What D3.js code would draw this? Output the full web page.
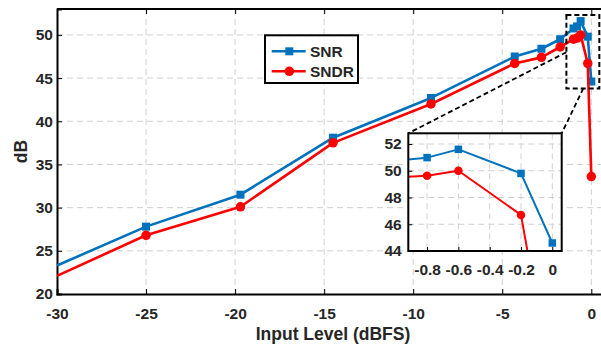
<!DOCTYPE html>
<html>
<head>
<meta charset="utf-8">
<script src="https://cdn.jsdelivr.net/npm/d3@7"></script>
<style>
  html, body { margin: 0; padding: 0; background: #fff; }
  svg { display: block; }
  text { font-family: "Liberation Sans", Arial, sans-serif; font-weight: bold; fill: #262626; }
</style>
</head>
<body>
<svg id="chart" width="601" height="345"></svg>
<script>
// ---- data ----
const inputLevel = [-30, -25, -19.7, -14.5, -9, -4.3, -2.8, -1.75, -1.0, -0.8, -0.6, -0.2, 0];
const snr  = [23.3, 27.8, 31.5, 38.1, 42.7, 47.5, 48.4, 49.5, 50.75, 50.98, 51.6, 49.8, 44.6];
const sndr = [22.1, 26.8, 30.1, 37.5, 42.0, 46.7, 47.4, 48.6, 49.5, 49.63, 50.0, 46.7, 33.6];
const seriesNames = ["SNR", "SNDR"];
const xTicks = [-30, -25, -20, -15, -10, -5, 0];
const yTicks = [20, 25, 30, 35, 40, 45, 50];
const insetXTicks = [-0.8, -0.6, -0.4, -0.2, 0];
const insetYTicks = [44, 46, 48, 50, 52];
const zoomBoxX = [-1.4, 0.45];
const zoomBoxY = [43.8, 52.3];

const BLUE = "#0072BD", RED = "#FF0000";
const svg = d3.select("#chart");
const hyphen = f => d => f(d).replace("\u2212", "-");

// ---- main axes ----
const M = {left: 57, top: 9, right: 602, bottom: 294};
const x = d3.scaleLinear().domain([-30, 0.6]).range([M.left, M.right]);
const y = d3.scaleLinear().domain([20, 53]).range([M.bottom, M.top]);

const grid = svg.append("g").attr("stroke", "#d0d0d0").attr("stroke-width", 1).attr("stroke-dasharray", "6,4");
grid.selectAll(".vg").data(xTicks.slice(1)).join("line")
  .attr("x1", d => x(d)).attr("x2", d => x(d)).attr("y1", M.top).attr("y2", M.bottom);
grid.selectAll(".hg").data(yTicks.slice(1)).join("line")
  .attr("y1", d => y(d)).attr("y2", d => y(d)).attr("x1", M.left).attr("x2", M.right);

// frame (top border)
svg.append("line").attr("x1", M.left).attr("x2", M.right).attr("y1", M.top).attr("y2", M.top)
  .attr("stroke", "#000").attr("stroke-width", 2);

const xAxis = svg.append("g").attr("transform", `translate(0,${M.bottom})`)
  .call(d3.axisBottom(x).tickValues(xTicks).tickSize(-5).tickPadding(13.5).tickFormat(hyphen(d3.format("d"))));
const yAxis = svg.append("g").attr("transform", `translate(${M.left},0)`)
  .call(d3.axisLeft(y).tickValues(yTicks).tickSize(-5).tickPadding(4).tickFormat(hyphen(d3.format("d"))));
// top ticks
svg.append("g").attr("transform", `translate(0,${M.top})`)
  .call(d3.axisTop(x).tickValues(xTicks).tickSize(-5).tickFormat(""))
  .select(".domain").remove();
[xAxis, yAxis].forEach(a => {
  a.select(".domain").attr("stroke", "#000").attr("stroke-width", 2);
  a.selectAll(".tick line").attr("stroke", "#000").attr("stroke-width", 1);
  a.selectAll(".tick text").style("font-size", "15.5px").style("font-family", "Liberation Sans, Arial, sans-serif").style("font-weight", "bold").attr("fill", "#262626");
});

// axis titles
svg.append("text").attr("x", 333).attr("y", 340).attr("text-anchor", "middle")
  .style("font-size", "17.5px").text("Input Level (dBFS)");
svg.append("text").attr("transform", "translate(27,151.5) rotate(-90)").attr("text-anchor", "middle")
  .style("font-size", "17.5px").text("dB");

// clip for main
svg.append("clipPath").attr("id", "mainClip").append("rect")
  .attr("x", M.left).attr("y", M.top).attr("width", M.right - M.left).attr("height", M.bottom - M.top);

function drawSeries(g, xs, ys, vals, color, shape, size, lw) {
  const pts = inputLevel.map((d, i) => [xs(d), ys(vals[i])]);
  g.append("path").attr("d", d3.line()(pts)).attr("fill", "none")
    .attr("stroke", color).attr("stroke-width", lw).attr("stroke-linejoin", "round");
  const markers = inputLevel.map((d, i) => ({x: d, v: vals[i]})).filter(d => d.x > -30);
  if (shape === "square") {
    g.selectAll(null).data(markers).join("rect")
      .attr("x", d => xs(d.x) - size / 2).attr("y", d => ys(d.v) - size / 2)
      .attr("width", size).attr("height", size).attr("fill", color);
  } else {
    g.selectAll(null).data(markers).join("circle")
      .attr("cx", d => xs(d.x)).attr("cy", d => ys(d.v)).attr("r", size / 2).attr("fill", color);
  }
}
const mainData = svg.append("g").attr("clip-path", "url(#mainClip)");
drawSeries(mainData, x, y, snr, BLUE, "square", 8, 2.6);
drawSeries(mainData, x, y, sndr, RED, "circle", 9.5, 2.6);

// zoom rectangle
const zr = {x1: x(zoomBoxX[0]), x2: x(zoomBoxX[1]), y1: y(zoomBoxY[1]), y2: y(zoomBoxY[0])};
svg.append("rect").attr("x", zr.x1).attr("y", zr.y1).attr("width", zr.x2 - zr.x1).attr("height", zr.y2 - zr.y1)
  .attr("fill", "none").attr("stroke", "#000").attr("stroke-width", 2).attr("stroke-dasharray", "5,3");

// ---- inset ----
const I = {left: 408.3, top: 133.3, right: 561.7, bottom: 251};
const ix = d3.scaleLinear().domain([-0.92, 0.06]).range([I.left, I.right]);
const iy = d3.scaleLinear().domain([44, 52.8]).range([I.bottom, I.top]);

// connectors
const conn = svg.append("g").attr("stroke", "#000").attr("stroke-width", 1.8).attr("stroke-dasharray", "5,3");
conn.append("line").attr("x1", zr.x1).attr("y1", y(48.0)).attr("x2", I.left).attr("y2", I.top);
conn.append("line").attr("x1", x(-0.45)).attr("y1", zr.y2).attr("x2", I.right).attr("y2", I.top);

svg.append("rect").attr("x", I.left).attr("y", I.top).attr("width", I.right - I.left).attr("height", I.bottom - I.top)
  .attr("fill", "#fff");
const igrid = svg.append("g").attr("stroke", "#d0d0d0").attr("stroke-width", 1).attr("stroke-dasharray", "6,4");
igrid.selectAll(".v").data(insetXTicks).join("line")
  .attr("x1", d => ix(d)).attr("x2", d => ix(d)).attr("y1", I.top).attr("y2", I.bottom);
igrid.selectAll(".h").data(insetYTicks.slice(1)).join("line")
  .attr("y1", d => iy(d)).attr("y2", d => iy(d)).attr("x1", I.left).attr("x2", I.right);

svg.append("clipPath").attr("id", "insetClip").append("rect")
  .attr("x", I.left).attr("y", I.top).attr("width", I.right - I.left).attr("height", I.bottom - I.top);
const insetData = svg.append("g").attr("clip-path", "url(#insetClip)");
drawSeries(insetData, ix, iy, snr, BLUE, "square", 7.5, 2);
drawSeries(insetData, ix, iy, sndr, RED, "circle", 8.5, 2);

const ixAxis = svg.append("g").attr("transform", `translate(0,${I.bottom})`)
  .call(d3.axisBottom(ix).tickValues(insetXTicks).tickSize(-4).tickPadding(13.3)
    .tickFormat(d => d === 0 ? "0" : hyphen(d3.format(".1f"))(d)));
const iyAxis = svg.append("g").attr("transform", `translate(${I.left},0)`)
  .call(d3.axisLeft(iy).tickValues(insetYTicks).tickSize(-4).tickPadding(6.6).tickFormat(d3.format("d")));
[ixAxis, iyAxis].forEach(a => {
  a.select(".domain").remove();
  a.selectAll(".tick line").attr("stroke", "#000");
  a.selectAll(".tick text").style("font-size", "15.5px").style("font-family", "Liberation Sans, Arial, sans-serif").style("font-weight", "bold").attr("fill", "#262626");
});
svg.append("rect").attr("x", I.left).attr("y", I.top).attr("width", I.right - I.left).attr("height", I.bottom - I.top)
  .attr("fill", "none").attr("stroke", "#000").attr("stroke-width", 2);

// ---- legend ----
const L = svg.append("g");
L.append("rect").attr("x", 265).attr("y", 35.3).attr("width", 93).attr("height", 47.7)
  .attr("fill", "#fff").attr("stroke", "#000").attr("stroke-width", 2);
const legendRows = [{name: seriesNames[0], color: BLUE, shape: "square", y: 51.3},
                    {name: seriesNames[1], color: RED, shape: "circle", y: 71.3}];
legendRows.forEach(r => {
  L.append("line").attr("x1", 271.7).attr("x2", 305.7).attr("y1", r.y).attr("y2", r.y)
    .attr("stroke", r.color).attr("stroke-width", 2.5);
  if (r.shape === "square") {
    L.append("rect").attr("x", 289.3 - 4).attr("y", r.y - 4).attr("width", 8).attr("height", 8).attr("fill", r.color);
  } else {
    L.append("circle").attr("cx", 289.3).attr("cy", r.y).attr("r", 4.8).attr("fill", r.color);
  }
  L.append("text").attr("x", 310).attr("y", r.y).attr("dy", "0.36em").style("font-size", "15.5px").text(r.name);
});
</script>
</body>
</html>
